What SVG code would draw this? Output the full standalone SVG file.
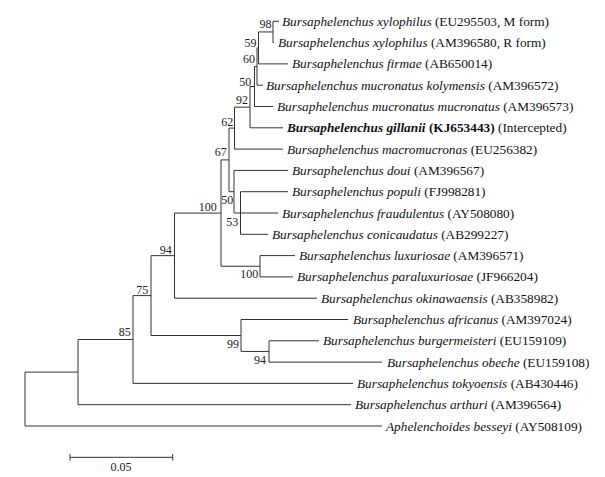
<svg xmlns="http://www.w3.org/2000/svg" width="605" height="477" viewBox="0 0 605 477">
<style>
text{font-family:'Liberation Serif','Tinos','DejaVu Serif',serif}
.leaf{font-size:13.3px;fill:#111}
.sp{font-style:italic}
.bs{font-size:12px;fill:#222;text-anchor:end}
.br{fill:none;stroke:#333;stroke-width:1}
</style>
<rect width="605" height="477" fill="#fff"/>
<g id="connectors" class="br">
<path d="M25 372.1V426M25 372.1H78M25 426H382"/>
<path d="M78 339.5V404.7M78 339.5H133M78 404.7H351"/>
<path d="M133 295.6V383.4M133 295.6H151M133 383.4H353"/>
<path d="M151 255.65V335.5M151 255.65H174.5M151 335.5H241"/>
<path d="M241 319.5V351.45M241 319.5H348M241 351.45H269"/>
<path d="M269 340.8V362.1M269 340.8H319M269 362.1H382"/>
<path d="M174.5 213.1V298.2M174.5 213.1H221M174.5 298.2H317"/>
<path d="M221 159.9V266.25M221 159.9H229M221 266.25H260"/>
<path d="M260 255.6V276.9M260 255.6H295M260 276.9H293"/>
<path d="M229 128.1V191.7M229 128.1H234.5M229 191.7H234"/>
<path d="M234 170.4V213M234 170.4H288M234 213H240.5"/>
<path d="M240.5 191.7V234.3M240.5 191.7H288M240.5 213H278M240.5 234.3H268"/>
<path d="M234.5 107.15V149.1M234.5 107.15H250M234.5 149.1H283"/>
<path d="M250 86.5V127.8M250 86.5H254.5M250 127.8H283"/>
<path d="M254.5 66.55V106.5M254.5 66.55H257M254.5 106.5H273"/>
<path d="M257 47.9V85.2M257 47.9H258.5M257 85.2H263"/>
<path d="M258.5 31.95V63.9M258.5 31.95H273M258.5 63.9H288"/>
<path d="M273 21.3V42.6M273 21.3H279M273 42.6H274"/>
</g>
<g id="leaves">
<g id="leaf1"><text class="leaf" x="282" y="25.8"><tspan class="sp">Bursaphelenchus xylophilus</tspan> (EU295503, M form)</text></g>
<g id="leaf2"><text class="leaf" x="278" y="47.1"><tspan class="sp">Bursaphelenchus xylophilus</tspan> (AM396580, R form)</text></g>
<g id="leaf3"><text class="leaf" x="292" y="68.4"><tspan class="sp">Bursaphelenchus firmae</tspan> (AB650014)</text></g>
<g id="leaf4"><text class="leaf" x="266" y="89.7"><tspan class="sp">Bursaphelenchus mucronatus kolymensis</tspan> (AM396572)</text></g>
<g id="leaf5"><text class="leaf" x="277" y="111"><tspan class="sp">Bursaphelenchus mucronatus mucronatus</tspan> (AM396573)</text></g>
<g id="leaf6"><text class="leaf" x="287" y="132.3"><tspan class="sp" font-weight="bold">Bursaphelenchus gillanii</tspan><tspan font-weight="bold"> (KJ653443)</tspan> (Intercepted)</text></g>
<g id="leaf7"><text class="leaf" x="287" y="153.6"><tspan class="sp">Bursaphelenchus macromucronas</tspan> (EU256382)</text></g>
<g id="leaf8"><text class="leaf" x="292" y="174.9"><tspan class="sp">Bursaphelenchus doui</tspan> (AM396567)</text></g>
<g id="leaf9"><text class="leaf" x="292" y="196.2"><tspan class="sp">Bursaphelenchus populi</tspan> (FJ998281)</text></g>
<g id="leaf10"><text class="leaf" x="282" y="217.5"><tspan class="sp">Bursaphelenchus fraudulentus</tspan> (AY508080)</text></g>
<g id="leaf11"><text class="leaf" x="272" y="238.8"><tspan class="sp">Bursaphelenchus conicaudatus</tspan> (AB299227)</text></g>
<g id="leaf12"><text class="leaf" x="299" y="260.1"><tspan class="sp">Bursaphelenchus luxuriosae</tspan> (AM396571)</text></g>
<g id="leaf13"><text class="leaf" x="297" y="281.4"><tspan class="sp">Bursaphelenchus paraluxuriosae</tspan> (JF966204)</text></g>
<g id="leaf14"><text class="leaf" x="321" y="302.7"><tspan class="sp">Bursaphelenchus okinawaensis</tspan> (AB358982)</text></g>
<g id="leaf15"><text class="leaf" x="353" y="324"><tspan class="sp">Bursaphelenchus africanus</tspan> (AM397024)</text></g>
<g id="leaf16"><text class="leaf" x="323" y="345.3"><tspan class="sp">Bursaphelenchus burgermeisteri</tspan> (EU159109)</text></g>
<g id="leaf17"><text class="leaf" x="387" y="366.6"><tspan class="sp">Bursaphelenchus obeche</tspan> (EU159108)</text></g>
<g id="leaf18"><text class="leaf" x="357" y="387.9"><tspan class="sp">Bursaphelenchus tokyoensis</tspan> (AB430446)</text></g>
<g id="leaf19"><text class="leaf" x="355" y="409.2"><tspan class="sp">Bursaphelenchus arthuri</tspan> (AM396564)</text></g>
<g id="leaf20"><text class="leaf" x="386" y="430.5"><tspan class="sp">Aphelenchoides besseyi</tspan> (AY508109)</text></g>
</g>
<g id="nodes">
<g id="n98"><text class="bs" x="271.5" y="27.5">98</text></g>
<g id="n59"><text class="bs" x="256.5" y="46.5">59</text></g>
<g id="n60"><text class="bs" x="255" y="62.5">60</text></g>
<g id="n50a"><text class="bs" x="251.3" y="86">50</text></g>
<g id="n92"><text class="bs" x="248" y="104">92</text></g>
<g id="n62"><text class="bs" x="233.3" y="126">62</text></g>
<g id="n67"><text class="bs" x="226.7" y="156">67</text></g>
<g id="n50b"><text class="bs" x="233.3" y="203.5">50</text></g>
<g id="n53"><text class="bs" x="238.3" y="226">53</text></g>
<g id="n100a"><text class="bs" x="216.7" y="211">100</text></g>
<g id="n100b"><text class="bs" x="258.3" y="277.5">100</text></g>
<g id="n94a"><text class="bs" x="171.7" y="253.5">94</text></g>
<g id="n75"><text class="bs" x="148.3" y="294">75</text></g>
<g id="n85"><text class="bs" x="130.7" y="336">85</text></g>
<g id="n99"><text class="bs" x="239" y="348">99</text></g>
<g id="n94b"><text class="bs" x="266" y="363.5">94</text></g>
</g>
<g id="scalebar">
<path class="br" d="M70 457.3H172.7M70 454V460.6M172.7 454V460.6"/>
<text class="bs" x="121" y="471" style="text-anchor:middle">0.05</text>
</g>
</svg>
